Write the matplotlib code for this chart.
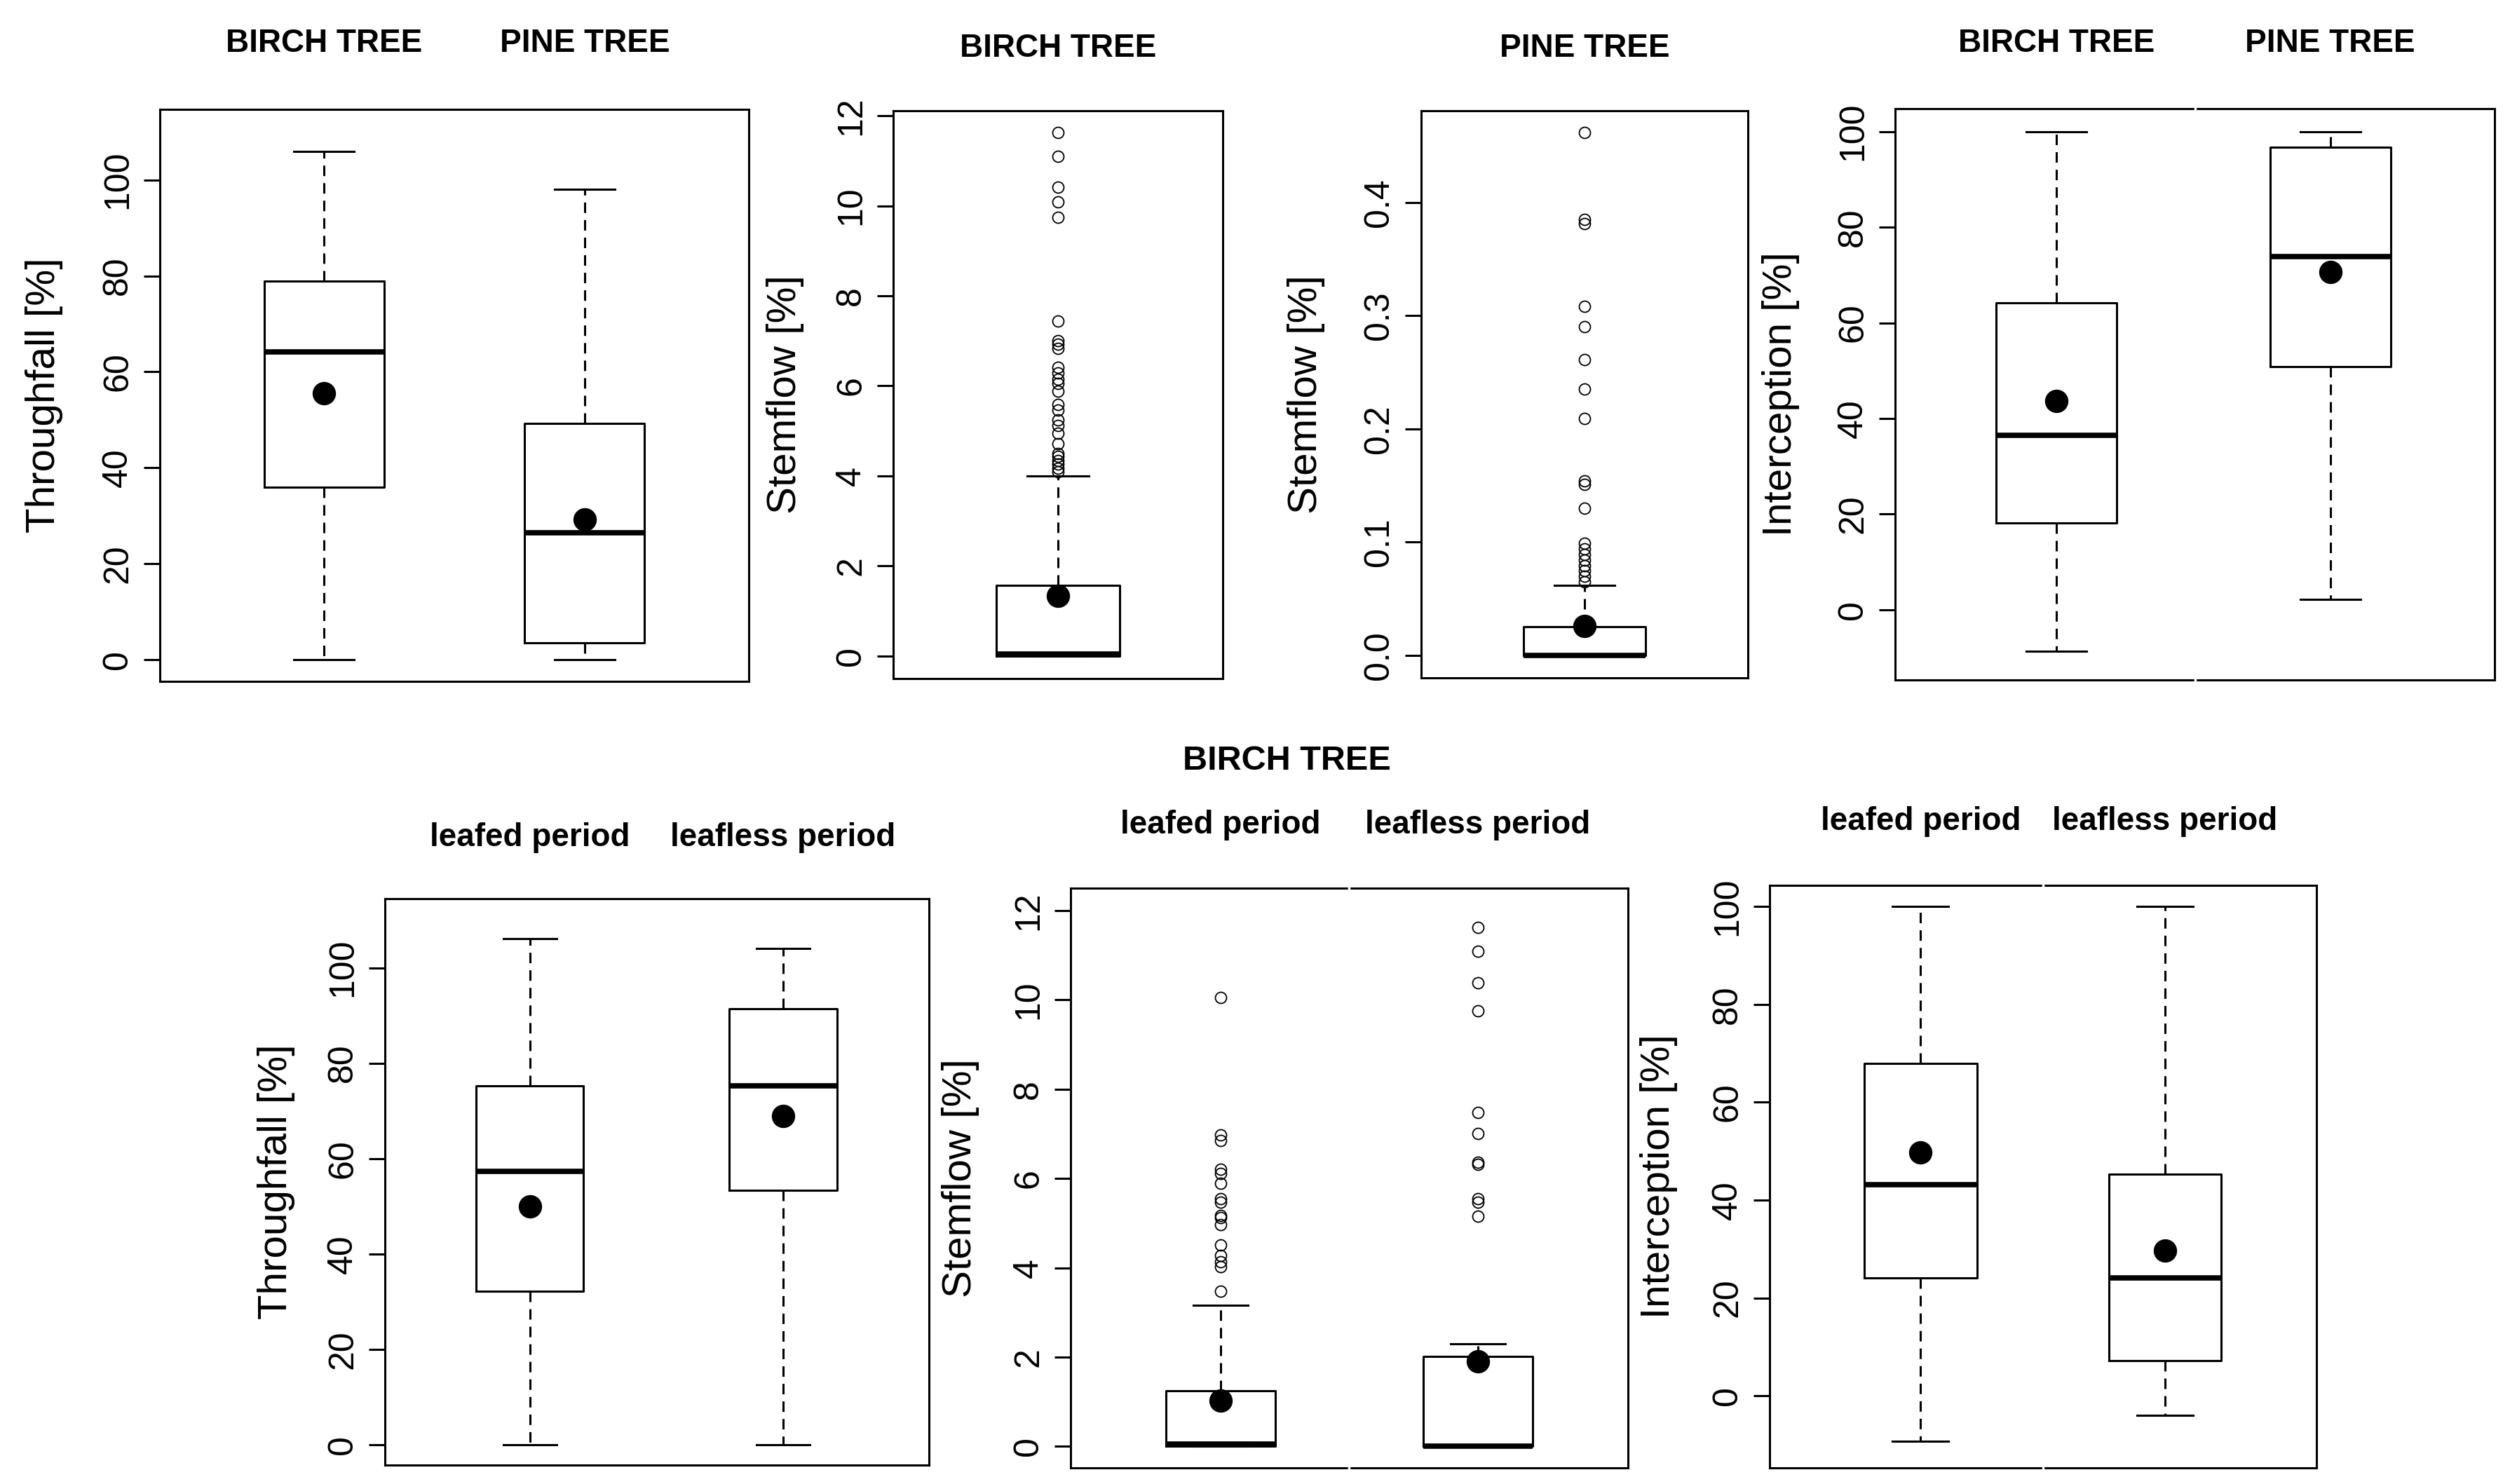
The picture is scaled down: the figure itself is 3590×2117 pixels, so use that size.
import matplotlib
matplotlib.use("Agg")
import matplotlib.pyplot as plt
import matplotlib.transforms as mtransforms

plt.rcParams['font.family'] = ['Liberation Sans', 'DejaVu Sans']

W, H = 3590, 2117

# ---- data (box stats: low whisker, q1, median, q3, high whisker, mean) ----
# top row: throughfall birch / pine
tf_labels = ["BIRCH TREE", "PINE TREE"]
tf_lo = [0.0, 0.0]
tf_q1 = [36.0, 3.5]
tf_med = [64.1, 26.4]
tf_q3 = [78.9, 49.3]
tf_hi = [106.0, 98.1]
tf_mean = [55.6, 29.3]

# stemflow birch
sf_birch_stats = [0.0, 0.0, 0.04, 1.57, 4.0, 1.33]
sf_birch_fliers = [11.63, 11.10, 10.41, 10.09, 9.74, 7.44, 7.01, 6.92, 6.84, 6.41,
                   6.28, 6.15, 6.06, 5.89, 5.59, 5.46, 5.25, 5.12, 4.95, 4.71,
                   4.50, 4.43, 4.34, 4.26, 4.17, 4.09]

# stemflow pine
sf_pine_stats = [0.0, 0.0, 0.0, 0.025, 0.0615, 0.026]
sf_pine_fliers = [0.462, 0.385, 0.381, 0.308, 0.290, 0.261, 0.235, 0.209, 0.154,
                  0.151, 0.130, 0.099, 0.094, 0.089, 0.084, 0.079, 0.075, 0.070, 0.065]

# interception birch / pine
ic_lo = [-8.7, 2.1]
ic_q1 = [18.2, 50.8]
ic_med = [36.4, 73.9]
ic_q3 = [64.2, 96.7]
ic_hi = [100.0, 100.0]
ic_mean = [43.6, 70.7]

# bottom row: birch tree, leafed / leafless period
period_labels = ["leafed period", "leafless period"]
ltf_lo = [0.0, 0.0]
ltf_q1 = [32.2, 53.3]
ltf_med = [57.3, 75.2]
ltf_q3 = [75.2, 91.4]
ltf_hi = [106.1, 104.1]
ltf_mean = [49.9, 68.9]

lsf_lo = [0.0, 0.0]
lsf_q1 = [0.0, 0.0]
lsf_med = [0.05, 0.0]
lsf_q3 = [1.25, 2.02]
lsf_hi = [3.16, 2.30]
lsf_mean = [1.03, 1.91]
lsf_leafed_fliers = [10.05, 6.98, 6.85, 6.20, 6.11, 5.89, 5.54, 5.47, 5.17, 5.12,
                     4.97, 4.51, 4.27, 4.14, 4.03, 3.48]
lsf_leafless_fliers = [11.62, 11.08, 10.38, 9.76, 7.47, 7.01, 6.37, 6.31, 5.54, 5.47, 5.16]

lic_lo = [-9.2, -4.0]
lic_q1 = [24.1, 7.2]
lic_med = [43.2, 24.1]
lic_q3 = [67.9, 45.3]
lic_hi = [100.0, 100.0]
lic_mean = [49.7, 29.7]


def make_stats(lo, q1, med, q3, hi, mean, fliers=None):
    out = []
    for i in range(len(lo)):
        out.append(dict(whislo=lo[i], q1=q1[i], med=med[i], q3=q3[i], whishi=hi[i],
                        mean=mean[i], fliers=(fliers[i] if fliers else [])))
    return out


def rect(l, t, r, b):
    return [l / W, 1 - b / H, (r - l) / W, (b - t) / H]


fig = plt.figure(figsize=(W / 100, H / 100), dpi=100)

LW = 2.2
TICK_FS = 36
LAB_FS = 42
TITLE_FS = 33


def draw_panel(box, stats, width, xlim, ylim, yticks, yticklabels, ylabel, ylabel_x,
               titles=None, title_y=None, gap=False):
    ax = fig.add_axes(rect(*box))
    pos = list(range(1, len(stats) + 1))
    ax.bxp(stats, positions=pos, widths=width, showmeans=True, patch_artist=False,
           boxprops=dict(color='black', lw=LW),
           medianprops=dict(color='black', lw=5.5, solid_capstyle='butt'),
           whiskerprops=dict(color='black', lw=LW, linestyle=(0, (4.9, 3.3))),
           capprops=dict(color='black', lw=LW),
           meanprops=dict(marker='o', markerfacecolor='black', markeredgecolor='black',
                          markersize=23),
           flierprops=dict(marker='o', markerfacecolor='none', markeredgecolor='black',
                           markersize=11.5, markeredgewidth=1.3, linestyle='none'))
    ax.set_xlim(*xlim)
    ax.set_ylim(*ylim)
    ax.set_xticks([])
    ax.set_yticks(yticks)
    ax.set_yticklabels(yticklabels)
    ax.tick_params(axis='y', length=16.5, width=LW, labelsize=TICK_FS, pad=10,
                   labelrotation=90)
    for lbl in ax.get_yticklabels():
        lbl.set_verticalalignment('center')
    for sp in ax.spines.values():
        sp.set_linewidth(LW)
    cy = 1 - (box[1] + box[3]) / 2 / H
    fig.text(ylabel_x / W, cy, ylabel, rotation=90, ha='center', va='center',
             fontsize=LAB_FS)
    if titles:
        tr = mtransforms.blended_transform_factory(ax.transData, fig.transFigure)
        for p, t in zip(pos, titles):
            ax.text(p, 1 - title_y / H, t, transform=tr, ha='center', va='center',
                    fontsize=TITLE_FS, fontweight='bold')
    if gap:
        # the two halves of these panels were pasted side by side
        ax.plot([0.5, 0.5], [-0.01, 1.01], transform=ax.transAxes, color='white',
                lw=2.5, clip_on=False, zorder=5)
    return ax


ticks100 = [0, 20, 40, 60, 80, 100]
ticks12 = [0, 2, 4, 6, 8, 10, 12]
ticks04 = [0.0, 0.1, 0.2, 0.3, 0.4]

# top row
draw_panel((228, 156, 1068, 972), make_stats(tf_lo, tf_q1, tf_med, tf_q3, tf_hi, tf_mean),
           0.46, (0.37, 2.63), (-4.5, 114.7), ticks100, [str(t) for t in ticks100],
           "Throughfall [%]", 63, titles=tf_labels, title_y=62)

draw_panel((1274, 158, 1744, 968),
           make_stats(*[[v] for v in sf_birch_stats], fliers=[sf_birch_fliers]),
           0.5, (0.332, 1.668), (-0.5, 12.11), ticks12, [str(t) for t in ticks12],
           "Stemflow [%]", 1120, titles=["BIRCH TREE"], title_y=69)

draw_panel((2027, 158, 2493, 967),
           make_stats(*[[v] for v in sf_pine_stats], fliers=[sf_pine_fliers]),
           0.5, (0.327, 1.673), (-0.02, 0.481), ticks04, ["%.1f" % t for t in ticks04],
           "Stemflow [%]", 1863, titles=["PINE TREE"], title_y=69)

draw_panel((2703, 155, 3558, 970), make_stats(ic_lo, ic_q1, ic_med, ic_q3, ic_hi, ic_mean),
           0.44, (0.412, 2.6), (-14.7, 104.8), ticks100, [str(t) for t in ticks100],
           "Interception [%]", 2540, titles=tf_labels, title_y=62, gap=True)

# bottom row
fig.text(1835 / W, 1 - 1086 / H, "BIRCH TREE", ha='center', va='center',
         fontsize=35, fontweight='bold')

draw_panel((549, 1282, 1325, 2090),
           make_stats(ltf_lo, ltf_q1, ltf_med, ltf_q3, ltf_hi, ltf_mean),
           0.424, (0.427, 2.576), (-4.3, 114.5), ticks100, [str(t) for t in ticks100],
           "Throughfall [%]", 394, titles=period_labels, title_y=1195)

draw_panel((1527, 1267, 2322, 2094),
           make_stats(lsf_lo, lsf_q1, lsf_med, lsf_q3, lsf_hi, lsf_mean,
                      fliers=[lsf_leafed_fliers, lsf_leafless_fliers]),
           0.427, (0.416, 2.584), (-0.48, 12.5), ticks12, [str(t) for t in ticks12],
           "Stemflow [%]", 1370, titles=period_labels, title_y=1177, gap=True)

draw_panel((2524, 1263, 3304, 2094),
           make_stats(lic_lo, lic_q1, lic_med, lic_q3, lic_hi, lic_mean),
           0.46, (0.382, 2.62), (-14.7, 104.3), ticks100, [str(t) for t in ticks100],
           "Interception [%]", 2366, titles=period_labels, title_y=1172, gap=True)

fig.savefig("out.png", dpi=100, facecolor='white')
